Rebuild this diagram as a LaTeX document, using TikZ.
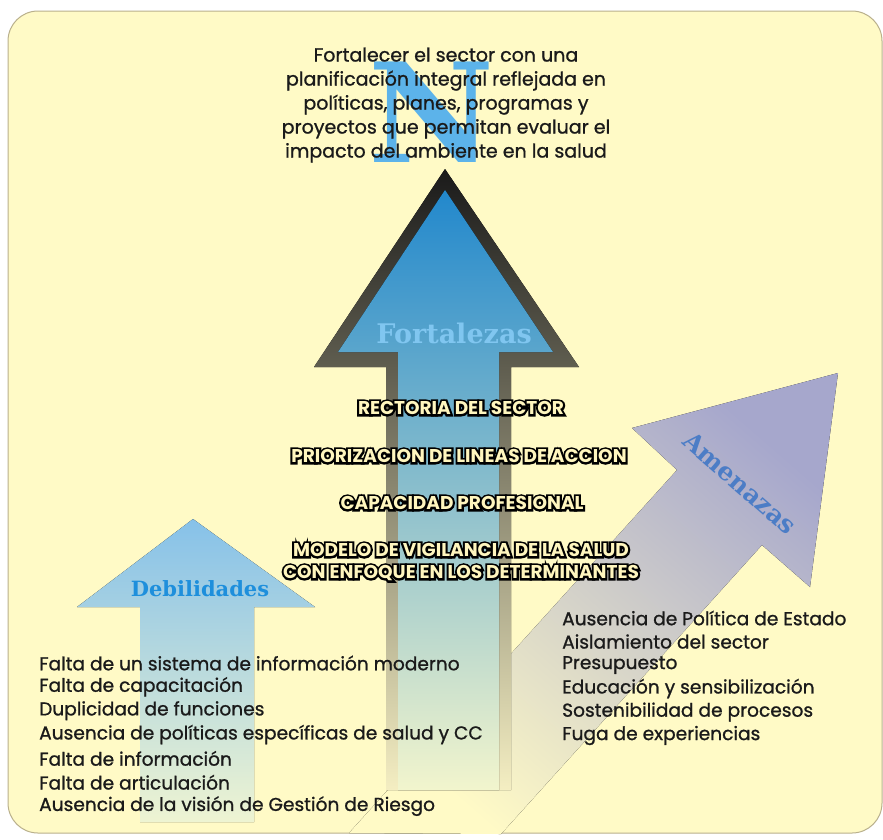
\documentclass[tikz,border=0pt]{standalone}
\usepackage{fontspec}
\usepackage{tikz}
\newfontfamily\gothic[FakeBold=1]{Poppins}
\newfontfamily\capsfont{Poppins Bold}
\newfontfamily\capsrim[FakeBold=22]{Poppins Bold}
\newfontfamily\slab{DejaVu Serif}

\definecolor{panelbg}{HTML}{FFFAC6}
\definecolor{panelrule}{HTML}{B9B08C}
\definecolor{fortop}{HTML}{2288CC}
\definecolor{formid}{HTML}{66B5DA}
\definecolor{forbot}{HTML}{F2F5CD}
\definecolor{rimtop}{HTML}{1A1A1A}
\definecolor{rimmid}{HTML}{8D8772}
\definecolor{rimbot}{HTML}{F4EEC2}
\definecolor{debtop}{HTML}{86C1E9}
\definecolor{debmid}{HTML}{A8D2E4}
\definecolor{debbot}{HTML}{EEF4D2}
\definecolor{amtop}{HTML}{A6A7CC}
\definecolor{ammid}{HTML}{D4D2CE}
\definecolor{nblue}{HTML}{5CB3EA}
\definecolor{forlabel}{HTML}{80C6F0}
\definecolor{deblabel}{HTML}{1E8FDC}
\definecolor{amlabel}{HTML}{4C7DC6}
\definecolor{capfill}{HTML}{FFF6BE}
\definecolor{ink}{HTML}{1A1A1A}

\tikzset{
  listtext/.style={font=\gothic\fontsize{18.6}{22}\selectfont, text=ink, anchor=west, inner sep=0pt},
  goaltext/.style={font=\gothic\fontsize{19}{24}\selectfont, text=ink, align=center, inner sep=0pt},
  capstext/.style={font=\capsfont\fontsize{18.5}{18}\selectfont, text=capfill, inner sep=0pt},
  capsrimtext/.style={font=\capsrim\fontsize{18.5}{18}\selectfont, text=black, inner sep=0pt},
  armlabel/.style={font=\slab\bfseries\fontsize{21}{21}\selectfont, inner sep=0pt},
}

\newcommand\outlinedcaps[2]{%
  \node[capsrimtext] at (#1) {#2};
  \node[capstext] at (#1) {#2};}

\begin{document}
\begin{tikzpicture}[x=1pt,y=-1pt]
  \useasboundingbox (0,0) rectangle (883,839);
  \fill[white] (0,0) rectangle (883,839);
  \draw[panelrule, fill=panelbg, rounded corners=30pt, line width=1pt] (8,11) rectangle (882,833);

  \fill[top color=amtop, middle color=ammid, bottom color=panelbg, shading angle=-41]
    (838,373) -- (810,587) -- (762,545) -- (501,834) -- (349,833) -- (677,470) -- (632,428) -- cycle;

  \fill[top color=debtop, middle color=debmid, bottom color=debbot]
    (193,519) -- (315,607) -- (254,607) -- (254,822) -- (140,822) -- (140,607) -- (77,607) -- cycle;

  \fill[top color=rimtop, middle color=rimmid, bottom color=rimbot]
    (445,169) -- (579,367) -- (511,367) -- (511,790) -- (386,790) -- (386,367) -- (314,367) -- cycle;
  \fill[top color=fortop, middle color=formid, bottom color=forbot]
    (445,190) -- (553,352) -- (499,352) -- (499,790) -- (398,790) -- (398,352) -- (338,352) -- cycle;

  \node[font=\slab\bfseries\fontsize{138}{138}\selectfont, text=nblue, inner sep=0pt] (glyph) at (432,112) {N};
  \node[goaltext] (goal) at (446,105) {Fortalecer el sector con una\\planificación integral reflejada en\\políticas, planes, programas y\\proyectos que permitan evaluar el\\impacto del ambiente en la salud};

  \node[armlabel, text=forlabel, font=\slab\bfseries\fontsize{27}{27}\selectfont] (fort) at (454,333) {Fortalezas};
  \node[armlabel, text=deblabel] (deb) at (200,589) {Debilidades};
  \node[armlabel, text=amlabel, font=\slab\bfseries\fontsize{25}{25}\selectfont, rotate=-41] (amen) at (740,483) {Amenazas};

  \coordinate (rect) at (461,408);
  \coordinate (prio) at (459,456);
  \coordinate (capa) at (462,503);
  \coordinate (mod1) at (461,550);
  \coordinate (mod2) at (461,573);
  \outlinedcaps{rect}{RECTORIA DEL SECTOR}
  \outlinedcaps{prio}{PRIORIZACION DE LINEAS DE ACCION}
  \outlinedcaps{capa}{CAPACIDAD PROFESIONAL}
  \outlinedcaps{mod1}{MODELO DE VIGILANCIA DE LA SALUD}
  \outlinedcaps{mod2}{CON ENFOQUE EN LOS DETERMINANTES}

  \foreach \txt [count=\i] in {Falta de un sistema de información moderno, Falta de capacitación,
      Duplicidad de funciones, Ausencia de políticas específicas de salud y CC,
      Falta de información, Falta de articulación, Ausencia de la visión de Gestión de Riesgo}
    \node[listtext] (weak\i) at (39,{663+23.85*(\i-1)}) {\txt};

  \foreach \txt [count=\i] in {Ausencia de Política de Estado, Aislamiento del sector, Presupuesto,
      Educación y sensibilización, Sostenibilidad de procesos, Fuga de experiencias}
    \node[listtext] (threat\i) at (562,{618+23.5*(\i-1)}) {\txt};
\end{tikzpicture}
\end{document}
